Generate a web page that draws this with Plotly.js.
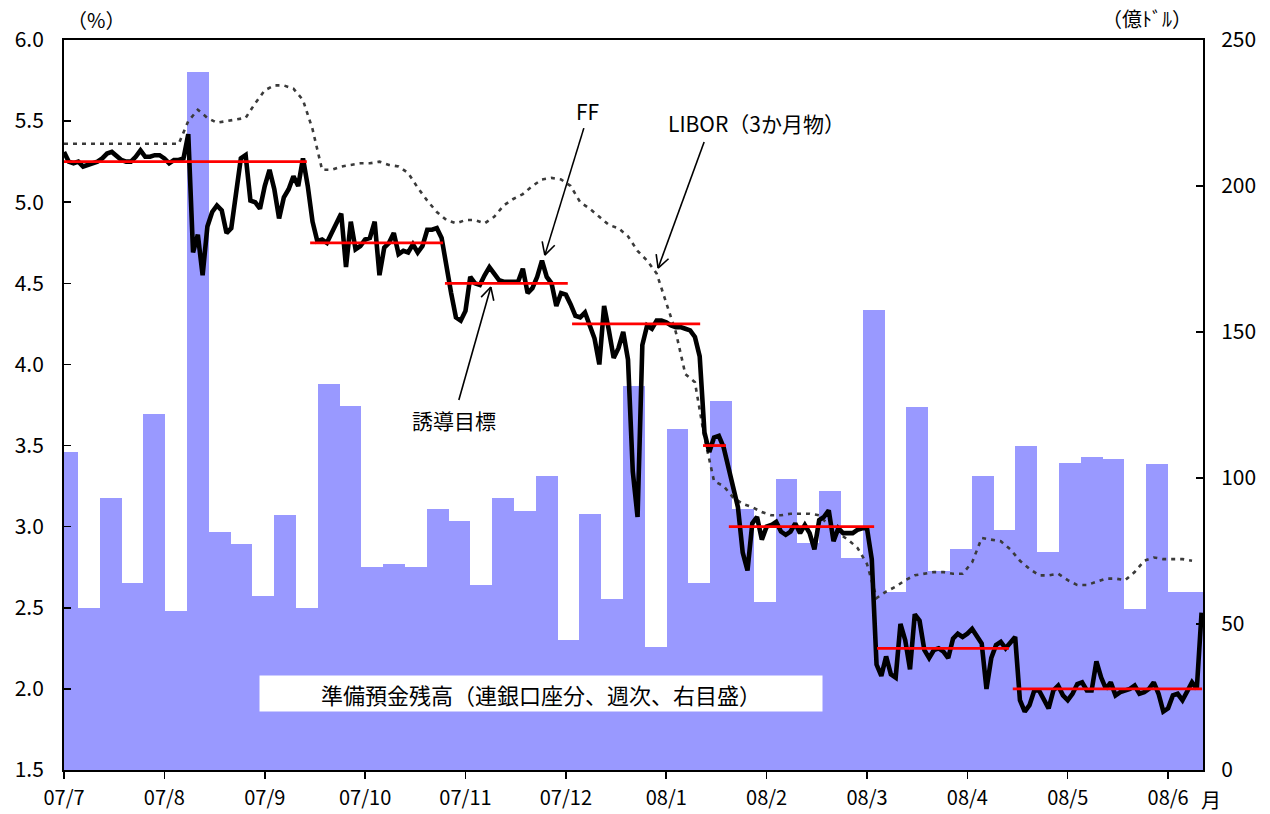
<!DOCTYPE html>
<html>
<head>
<meta charset="utf-8">
<script src="https://cdn.plot.ly/plotly-3.0.1.min.js"></script>
<style>
  html, body { margin: 0; padding: 0; background: #ffffff; }
  #chart { width: 1270px; height: 814px; }
</style>
</head>
<body>
<div id="chart"></div>
<script>
// Month labels on the time axis (each month laid out as 21 business days)
const monthLabels = ['07/7', '07/8', '07/9', '07/10', '07/11', '07/12',
                     '08/1', '08/2', '08/3', '08/4', '08/5', '08/6'];

// Reserve balances held at the Fed, weekly (100 million USD, right scale)
const reserveBalance = [
  108.8, 55.4, 93.0, 63.9, 121.8, 54.3, 239.0, 81.4, 77.3, 59.6,
  87.2, 55.4, 132.1, 124.6, 69.4, 70.4, 69.5, 89.3, 85.2, 63.3,
  93.0, 88.6, 100.6, 44.4, 87.6, 58.4, 131.4, 42.0, 116.7, 63.9,
  126.3, 89.3, 57.4, 99.7, 77.6, 95.4, 72.5, 157.5, 60.8, 124.2,
  68.0, 75.6, 100.8, 82.1, 110.8, 74.5, 105.0, 107.1, 106.4, 55.0,
  104.7, 60.8, 60.8
];

// Effective federal funds rate, daily (%), July 2007 onward
const ffRate = [
  // 07/7
  5.31, 5.25, 5.24, 5.25, 5.22, 5.23, 5.24, 5.25, 5.27, 5.30, 5.31, 5.28, 5.26, 5.25, 5.25, 5.28, 5.32, 5.28, 5.28, 5.29, 5.29,
  // 07/8
  5.27, 5.24, 5.26, 5.26, 5.27, 5.42, 4.69, 4.80, 4.55, 4.85, 4.94, 4.98, 4.95, 4.81, 4.84, 5.05, 5.27, 5.29, 5.01, 5.00, 4.96,
  // 07/9
  5.10, 5.20, 5.08, 4.90, 5.03, 5.08, 5.16, 5.10, 5.27, 5.10, 4.88, 4.76, 4.77, 4.75, 4.81, 4.87, 4.93, 4.60, 4.88, 4.71, 4.73,
  // 07/10
  4.77, 4.78, 4.88, 4.55, 4.72, 4.75, 4.81, 4.68, 4.70, 4.69, 4.74, 4.69, 4.73, 4.83, 4.83, 4.84, 4.78, 4.60, 4.44, 4.29, 4.27,
  // 07/11
  4.33, 4.54, 4.50, 4.49, 4.55, 4.60, 4.56, 4.52, 4.51, 4.51, 4.51, 4.51, 4.59, 4.44, 4.47, 4.54, 4.64, 4.54, 4.50, 4.36, 4.44,
  // 07/12
  4.43, 4.37, 4.30, 4.29, 4.32, 4.24, 4.16, 4.00, 4.36, 4.21, 4.04, 4.10, 4.20, 4.03, 3.34, 3.06, 4.12, 4.24, 4.22, 4.27, 4.27,
  // 08/1
  4.26, 4.24, 4.23, 4.23, 4.22, 4.21, 4.17, 4.05, 3.58, 3.46, 3.55, 3.56, 3.49, 3.36, 3.24, 3.12, 2.84, 2.73, 3.02, 3.06, 2.92,
  // 08/2
  3.00, 3.01, 3.03, 2.97, 2.95, 2.97, 3.02, 2.96, 3.01, 2.96, 2.86, 3.04, 3.06, 3.10, 2.91, 2.99, 2.96, 2.96, 2.96, 2.98, 2.99,
  // 08/3
  2.99, 2.80, 2.15, 2.08, 2.20, 2.09, 2.07, 2.40, 2.30, 2.12, 2.46, 2.42, 2.24, 2.19, 2.24, 2.25, 2.23, 2.19, 2.31, 2.34, 2.32,
  // 08/4
  2.34, 2.37, 2.33, 2.28, 2.00, 2.19, 2.27, 2.29, 2.25, 2.28, 2.32, 1.93, 1.86, 1.90, 1.99, 1.99, 1.94, 1.88, 1.99, 2.02, 1.96,
  // 08/5
  1.93, 1.97, 2.03, 2.04, 1.99, 1.99, 2.17, 2.07, 2.00, 2.04, 1.96, 1.98, 1.99, 2.00, 2.02, 1.97, 1.98, 2.00, 2.04, 1.97, 1.86,
  // 08/6
  1.88, 1.96, 1.97, 1.93, 1.98, 2.04, 2.00, 2.47
];

// 3-month USD LIBOR (%), one reading every second business day
const libor3m = [
  5.36, 5.36, 5.36, 5.36, 5.36, 5.36, 5.36, 5.36, 5.36, 5.36,
  5.36, 5.36, 5.36, 5.50, 5.57, 5.52, 5.49, 5.50, 5.51, 5.52,
  5.61, 5.69, 5.72, 5.72, 5.70, 5.63, 5.45, 5.20, 5.20, 5.22,
  5.23, 5.24, 5.24, 5.25, 5.23, 5.22, 5.18, 5.09, 5.01, 4.94,
  4.89, 4.87, 4.89, 4.89, 4.87, 4.91, 4.98, 5.02, 5.05, 5.10,
  5.14, 5.15, 5.14, 5.10, 5.00, 4.96, 4.91, 4.86, 4.84, 4.79,
  4.70, 4.64, 4.56, 4.38, 4.20, 3.94, 3.89, 3.55, 3.28, 3.25,
  3.18, 3.14, 3.12, 3.09, 3.07, 3.07, 3.08, 3.08, 3.08, 3.07,
  3.01, 2.96, 2.92, 2.87, 2.77, 2.56, 2.60, 2.63, 2.67, 2.70,
  2.71, 2.72, 2.72, 2.71, 2.71, 2.78, 2.93, 2.92, 2.91, 2.86,
  2.79, 2.74, 2.70, 2.70, 2.71, 2.67, 2.64, 2.64, 2.66, 2.68,
  2.68, 2.67, 2.72, 2.79, 2.81, 2.80, 2.80, 2.80, 2.79
];

// FOMC funds-rate target (%) and the business-day span each level was in force
const targetRate = [5.25, 4.75, 4.50, 4.25, 3.50, 3.00, 2.25, 2.00];
const targetFrom = [0, 51.5, 79.7, 106.3, 133.7, 139.1, 170.1, 198.5];
const targetTo   = [50.8, 79.3, 105.4, 133.1, 138.5, 169.5, 197.7, 238.1];

// ---------- derived series ----------
const DAYS_PER_MONTH = 21;
const dayAxisEnd = 238.3;

const ffDays = ffRate.map((_, i) => i);
const liborDays = libor3m.map((_, i) => 2 * i);
const weekIndex = reserveBalance.map((_, i) => i);

const targetX = [], targetY = [];
targetRate.forEach((r, i) => {
  targetX.push(targetFrom[i], targetTo[i], null);
  targetY.push(r, r, null);
});

const monthTicks = monthLabels.map((_, i) => i * DAYS_PER_MONTH);

const FONT = '"Noto Sans CJK JP", "Noto Sans", sans-serif';
const BLACK = '#000000';

// plot-area geometry used to draw open arrowheads in pixel space
const plotW = 1270 - 64 - 67, plotH = 814 - 40 - 44;
const pxPerDay = plotW / dayAxisEnd;
const pxPerPct = plotH / 4.5;

function pointerShapes(tipX, tipY, tailDx, tailDy) {
  // tail offset given in screen pixels from the tip
  const tailX = tipX + tailDx / pxPerDay;
  const tailY = tipY - tailDy / pxPerPct;
  const len = Math.hypot(tailDx, tailDy);
  const ux = tailDx / len, uy = tailDy / len;
  const arm = 14, ang = 28 * Math.PI / 180;
  const shapes = [{
    type: 'line', xref: 'x2', yref: 'y2',
    x0: tailX, y0: tailY, x1: tipX, y1: tipY,
    line: { color: BLACK, width: 1.6 }
  }];
  [ang, -ang].forEach(a => {
    const rx = ux * Math.cos(a) - uy * Math.sin(a);
    const ry = ux * Math.sin(a) + uy * Math.cos(a);
    shapes.push({
      type: 'line', xref: 'x2', yref: 'y2',
      x0: tipX, y0: tipY,
      x1: tipX + rx * arm / pxPerDay, y1: tipY - ry * arm / pxPerPct,
      line: { color: BLACK, width: 1.6 }
    });
  });
  return shapes;
}

const traces = [
  {
    type: 'bar', x: weekIndex, y: reserveBalance,
    xaxis: 'x', yaxis: 'y',
    marker: { color: '#9999FF', line: { width: 0 } },
    hoverinfo: 'skip'
  },
  {
    type: 'scatter', mode: 'lines', x: liborDays, y: libor3m,
    xaxis: 'x2', yaxis: 'y2',
    line: { color: '#3a3a3a', width: 2.6, dash: '4px,5px' },
    hoverinfo: 'skip'
  },
  {
    type: 'scatter', mode: 'lines', x: ffDays, y: ffRate,
    xaxis: 'x2', yaxis: 'y2',
    line: { color: BLACK, width: 4.6, shape: 'linear' },
    hoverinfo: 'skip'
  },
  {
    type: 'scatter', mode: 'lines', x: targetX, y: targetY,
    xaxis: 'x2', yaxis: 'y2', connectgaps: false,
    line: { color: '#FF0000', width: 2.8 },
    hoverinfo: 'skip'
  }
];

const axisCommon = {
  showgrid: false, zeroline: false, showline: true,
  linecolor: BLACK, linewidth: 2,
  tickcolor: BLACK, tickwidth: 1.5,
  tickfont: { family: FONT, size: 21, color: BLACK }
};

function note(xref, yref, x, y, text, size) {
  return { xref: xref, yref: yref, x: x, y: y, text: text,
           xanchor: 'center', yanchor: 'middle', showarrow: false,
           font: { family: FONT, size: size, color: BLACK } };
}

const layout = {
  width: 1270, height: 814,
  margin: { l: 64, r: 67, t: 40, b: 44, pad: 0 },
  paper_bgcolor: '#ffffff', plot_bgcolor: '#ffffff',
  showlegend: false, bargap: 0,
  font: { family: FONT, size: 21, color: BLACK },
  xaxis: { range: [-0.142, 52.106], visible: false, fixedrange: true },
  yaxis: Object.assign({}, axisCommon, {
    range: [0, 250], side: 'right', anchor: 'x',
    tick0: 0, dtick: 50, ticks: 'inside', ticklen: 7,
    ticklabelstandoff: 12
  }),
  xaxis2: Object.assign({}, axisCommon, {
    overlaying: 'x', anchor: 'y2', side: 'bottom',
    range: [0, dayAxisEnd], mirror: true,
    tickmode: 'array', tickvals: monthTicks, ticktext: monthLabels,
    ticks: 'outside', ticklen: 7,
    tickfont: { family: FONT, size: 20, color: BLACK },
    ticklabelstandoff: 2
  }),
  yaxis2: Object.assign({}, axisCommon, {
    overlaying: 'y', anchor: 'x2', side: 'left',
    range: [1.5, 6.0], tick0: 1.5, dtick: 0.5, tickformat: '.1f',
    ticks: 'inside', ticklen: 7,
    ticklabelstandoff: 14
  }),
  annotations: [
    note('paper', 'paper', 0.0281, 1.0274, '（%）', 20),
    note('paper', 'paper', 0.9508, 1.0288, '（億ﾄﾞﾙ）', 20),
    note('paper', 'paper', 1.0070, -0.0400, '月', 20),
    note('x2', 'y2', 109.6, 5.56, 'FF', 21),
    note('x2', 'y2', 144.8, 5.49, 'LIBOR（3か月物）', 21),
    note('x2', 'y2', 81.6, 3.657, '誘導目標', 21),
    Object.assign(note('paper', 'paper', 0.4188, 0.1048,
      '準備預金残高（連銀口座分、週次、右目盛）', 22), {
      bgcolor: '#ffffff', borderpad: 0,
      width: 562, height: 35, align: 'center', valign: 'middle'
    })
  ],
  shapes: [].concat(
    pointerShapes(100.6, 4.674, 39, -127),
    pointerShapes(124.3, 4.594, 46, -126),
    pointerShapes(89.3, 4.477, -32, 113)
  )
};

Plotly.newPlot('chart', traces, layout, { displayModeBar: false, staticPlot: true });
</script>
</body>
</html>
